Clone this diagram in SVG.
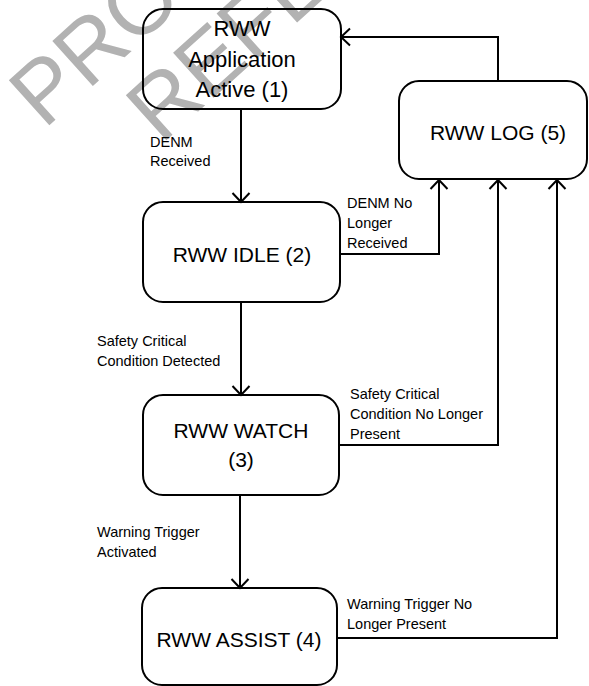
<svg xmlns="http://www.w3.org/2000/svg" width="589" height="686" viewBox="0 0 589 686">
<style>
.node rect{fill:none;stroke:#000;stroke-width:2}
.nt{font-family:"Liberation Sans",Arial,sans-serif;font-size:21px;fill:#000;text-anchor:middle}
.lb{font-family:"Liberation Sans",Arial,sans-serif;font-size:14.5px;fill:#000}
.wm{font-family:"Liberation Sans",Arial,sans-serif;font-size:88px;fill:#b2b2b2}
#connectors path{fill:none;stroke:#000;stroke-width:2}
</style>
<defs>
<marker id="arr" markerUnits="userSpaceOnUse" markerWidth="20" markerHeight="20" viewBox="-12 -10 14 20" refX="0" refY="0" orient="auto">
<path d="M-9,-8.5 L0,0 L-9,8.5" fill="none" stroke="#000" stroke-width="2"/>
</marker>
</defs>
<rect width="589" height="686" fill="#fff"/>
<g id="watermark">
<text class="wm" transform="translate(44,130) rotate(-42)">PRO</text>
<text class="wm" transform="translate(161,145) rotate(-42)">REFE</text>
</g>
<g id="connectors">
<path d="M241,109 V202" marker-end="url(#arr)"/>
<path d="M241,302 V395" marker-end="url(#arr)"/>
<path d="M240,495 V588" marker-end="url(#arr)"/>
<path d="M340,254 H439 V180" marker-end="url(#arr)"/>
<path d="M339,445 H498 V180" marker-end="url(#arr)"/>
<path d="M337,638 H557 V180" marker-end="url(#arr)"/>
<path d="M498,81 V37 H341" marker-end="url(#arr)"/>
</g>
<g id="labels">
<text class="lb" x="150" y="147">DENM</text>
<text class="lb" x="150" y="166">Received</text>
<text class="lb" x="347" y="208">DENM No</text>
<text class="lb" x="347" y="228">Longer</text>
<text class="lb" x="347" y="248">Received</text>
<text class="lb" x="97" y="346">Safety Critical</text>
<text class="lb" x="97" y="366">Condition Detected</text>
<text class="lb" x="350" y="399">Safety Critical</text>
<text class="lb" x="350" y="419">Condition No Longer</text>
<text class="lb" x="350" y="439">Present</text>
<text class="lb" x="97" y="537">Warning Trigger</text>
<text class="lb" x="97" y="557">Activated</text>
<text class="lb" x="347" y="609">Warning Trigger No</text>
<text class="lb" x="347" y="629">Longer Present</text>
</g>
<g id="node1" class="node">
<rect x="143" y="9" width="198" height="100" rx="20"/>
<text class="nt" style="font-size:22px" x="242" y="36">RWW</text>
<text class="nt" style="font-size:22px" x="242" y="67">Application</text>
<text class="nt" style="font-size:22px" x="242" y="97">Active (1)</text>
</g>
<g id="node2" class="node">
<rect x="143" y="202" width="197" height="100" rx="20"/>
<text class="nt" x="242" y="262">RWW IDLE (2)</text>
</g>
<g id="node3" class="node">
<rect x="143" y="395" width="196" height="100" rx="20"/>
<text class="nt" x="241" y="438">RWW WATCH</text>
<text class="nt" x="241" y="467">(3)</text>
</g>
<g id="node4" class="node">
<rect x="142" y="588" width="195" height="97" rx="20"/>
<text class="nt" x="239" y="647">RWW ASSIST (4)</text>
</g>
<g id="node5" class="node">
<rect x="399" y="81" width="188" height="98" rx="20"/>
<text class="nt" x="498" y="140">RWW LOG (5)</text>
</g>
</svg>
